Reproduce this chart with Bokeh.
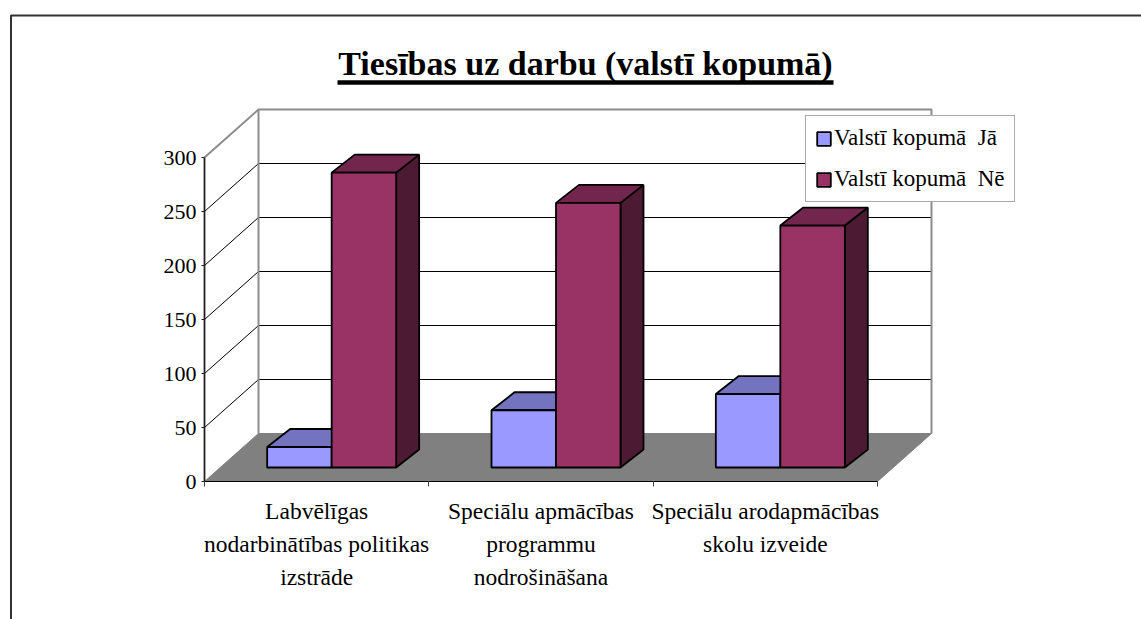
from bokeh.plotting import figure
from bokeh.embed import file_html
from bokeh.resources import INLINE
from bokeh.models import (Range1d, LinearAxis, FixedTicker, Legend, LegendItem, Label)

title_text = "Tiesības uz darbu (valstī kopumā)"
categories = ["Labvēlīgas\nnodarbinātības politikas\nizstrāde",
              "Speciālu apmācības\nprogrammu\nnodrošināšana",
              "Speciālu arodapmācības\nskolu izveide"]
series_names = ["Valstī kopumā  Jā", "Valstī kopumā  Nē"]
values_ja = [19, 53, 68]
values_ne = [273, 245, 224]
y_ticks = [0, 50, 100, 150, 200, 250, 300]

front = ["#9999FF", "#993366"]
top = ["#7373BF", "#73264D"]
side = ["#4D4D80", "#4D1A33"]
FONT = "Liberation Serif"

W, H = 1141, 619
X0, PX_PER_CAT = 204, 224.33
Y0, PX_PER_VAL = 481, 1.08
N = len(categories)

def dx(px):
    return px / PX_PER_CAT
def dy(px):
    return px / PX_PER_VAL
def sx(px):
    return (px - X0) / PX_PER_CAT
def sy(px):
    return (Y0 - px) / PX_PER_VAL

p = figure(width=W, height=H, output_backend="svg", toolbar_location=None,
           x_axis_type=None, y_axis_type=None, min_border=0, outline_line_color=None,
           x_range=Range1d(sx(0), sx(W)), y_range=Range1d(sy(H), sy(0)))
p.grid.visible = False

# page border
p.line([sx(10.5), sx(10.5), sx(W)], [sy(H), sy(15), sy(15)], line_color="#333333", line_width=2)

DX, DY = dx(54), dy(48)
ymax = y_ticks[-1]

# floor
p.patch([0, N, N + DX, DX], [0, 0, DY, DY], fill_color="#808080", line_color="#808080")
# grid
gx = [[0, DX, N + DX] for v in y_ticks[1:-1]]
gy = [[v, v + DY, v + DY] for v in y_ticks[1:-1]]
p.multi_line(gx, gy, line_color="#000000", line_width=1)
# walls
p.line([0, DX, N + DX, N + DX], [ymax, ymax + DY, ymax + DY, DY], line_color="#8C8C8C", line_width=2)
p.line([DX, DX], [DY, ymax + DY], line_color="#8C8C8C", line_width=2)

# axes
ya = LinearAxis(ticker=FixedTicker(ticks=y_ticks), fixed_location=0, bounds=(0, ymax),
                axis_line_color="#222222", axis_line_width=1.8, major_tick_line_color="#222222",
                major_tick_in=0, major_tick_out=3, major_tick_line_width=1.2, minor_tick_line_color=None,
                major_label_standoff=5, major_label_text_font=FONT, major_label_text_font_size="22px",
                major_label_text_color="#000000")
p.add_layout(ya, "left")
xa = LinearAxis(ticker=FixedTicker(ticks=list(range(N + 1))), fixed_location=0, bounds=(0, N),
                axis_line_color="#000000", axis_line_width=1.2, major_tick_line_color="#444444",
                major_tick_in=0, major_tick_out=5, minor_tick_line_color=None,
                major_label_overrides={i: "" for i in range(N + 1)})
p.add_layout(xa, "below")
cat_ticks = [i + 0.5 for i in range(N)]
xl = LinearAxis(ticker=FixedTicker(ticks=cat_ticks), fixed_location=0, axis_line_color=None,
                major_tick_line_color=None, minor_tick_line_color=None, major_label_standoff=10,
                major_label_overrides={t: c for t, c in zip(cat_ticks, categories)},
                major_label_text_font=FONT, major_label_text_font_size="23.5px",
                major_label_text_line_height=1.28, major_label_text_color="#000000")
p.add_layout(xl, "below")

# bars
OFF_X, OFF_Y = dx(15), dy(14)
BW = dx(64.5)
BDX, BDY = dx(23), dy(18)
renderers = []
for s, vals in enumerate([values_ja, values_ne]):
    lefts = [i + 0.5 + OFF_X - BW + s * BW for i in range(N)]
    rights = [l + BW for l in lefts]
    b = OFF_Y
    p.patches([[r, r + BDX, r + BDX, r] for r in rights],
              [[b, b + BDY, v + b + BDY, v + b] for v in vals],
              fill_color=side[s], line_color="#000000", line_width=1.8)
    p.patches([[l, l + BDX, r + BDX, r] for l, r in zip(lefts, rights)],
              [[v + b, v + b + BDY, v + b + BDY, v + b] for v in vals],
              fill_color=top[s], line_color="#000000", line_width=1.8)
    q = p.quad(left=lefts, right=rights, bottom=[b] * N, top=[v + b for v in vals],
               fill_color=front[s], line_color="#000000", line_width=1.8)
    renderers.append(q)

legend = Legend(items=[LegendItem(label=n, renderers=[r]) for n, r in zip(series_names, renderers)],
                location=(805, H - 202), margin=0, padding=9, spacing=15,
                glyph_width=17, glyph_height=17, label_standoff=2, label_height=20,
                label_text_font=FONT, label_text_font_size="23px", label_text_color="#000000",
                border_line_color="#555555", border_line_width=1, background_fill_color="#FFFFFF",
                background_fill_alpha=1)
p.add_layout(legend, "center")

t = Label(x=585, y=H - 78 + 15, x_units="screen", y_units="screen", text=title_text,
          text_font=FONT, text_font_style="bold", text_font_size="34px", text_align="center",
          text_baseline="alphabetic", text_color="#000000")
p.add_layout(t)
p.line([sx(337), sx(833)], [sy(82), sy(82)], line_color="#000000", line_width=4.5)

open("out.html", "w").write(file_html(p, INLINE))
